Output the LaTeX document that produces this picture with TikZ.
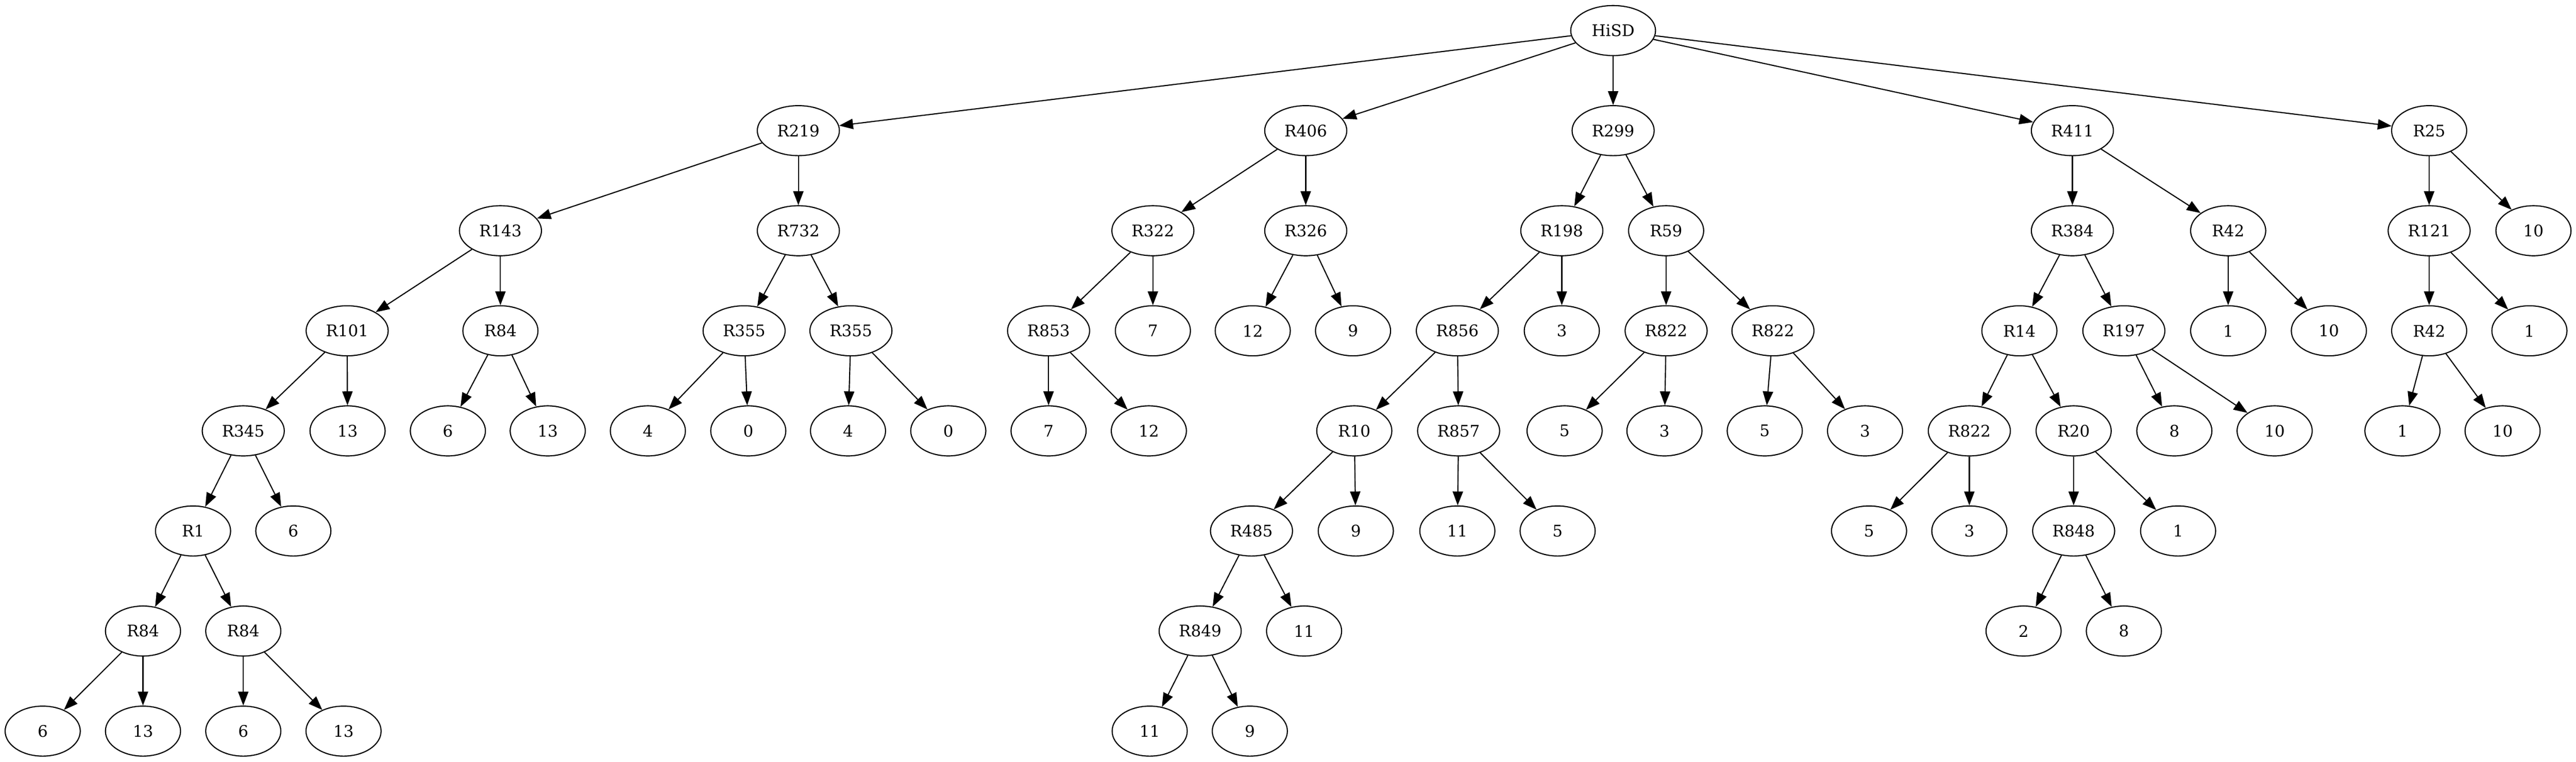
\documentclass[tikz,border=0pt]{standalone}
\usepackage{fontspec}
\setmainfont{DejaVu Serif}
\usetikzlibrary{shapes.geometric}
\usetikzlibrary{arrows.meta}
\def\thickness{0.8pt}
\tikzstyle{leaf}=[ellipse, draw=black, line width=\thickness, inner sep=0pt, minimum width=54pt, minimum height=36pt, font=\fontsize{11.5}{13}\selectfont]
\tikzstyle{wide}=[leaf, minimum width=59pt]
\tikzstyle{root}=[leaf, minimum width=61pt]
\tikzstyle{edge}=[line width=\thickness, -{Triangle[length=10pt, width=7.4pt]}]

\begin{document}
\begin{tikzpicture}[x=1pt, y=-1pt]
\useasboundingbox (0,0) rectangle (1852.1,547.9);
% rank 0
\node [root] (hisd) at (1159.8,22) {HiSD};
% rank 1
\node [wide] (r219) at (574.0,94) {R219};
\node [wide] (r406) at (938.8,94) {R406};
\node [wide] (r299) at (1159.8,94) {R299};
\node [wide] (r411) at (1490.0,94) {R411};
\node [leaf] (r25) at (1746.5,94) {R25};
% rank 2
\node [wide] (r143) at (359.8,166) {R143};
\node [wide] (r732) at (574.0,166) {R732};
\node [wide] (r322) at (828.9,166) {R322};
\node [wide] (r326) at (938.8,166) {R326};
\node [wide] (r198) at (1122.9,166) {R198};
\node [leaf] (r59) at (1197.9,166) {R59};
\node [wide] (r384) at (1490.0,166) {R384};
\node [leaf] (r42a) at (1602.0,166) {R42};
\node [wide] (r121) at (1746.5,166) {R121};
\node [leaf] (r25t) at (1821.5,166) {10};
% rank 3
\node [wide] (r101) at (249.6,238) {R101};
\node [leaf] (r84a) at (359.8,238) {R84};
\node [wide] (r355a) at (535.0,238) {R355};
\node [wide] (r355b) at (611.8,238) {R355};
\node [wide] (r853) at (753.9,238) {R853};
\node [leaf] (r322t) at (828.9,238) {7};
\node [leaf] (r326a) at (900.7,238) {12};
\node [leaf] (r326b) at (972.8,238) {9};
\node [wide] (r856) at (1047.8,238) {R856};
\node [leaf] (r198t) at (1122.9,238) {3};
\node [wide] (r822a) at (1197.9,238) {R822};
\node [wide] (r822b) at (1274.7,238) {R822};
\node [leaf] (r14) at (1451.9,238) {R14};
\node [wide] (r197) at (1527.0,238) {R197};
\node [leaf] (r42aa) at (1602.0,238) {1};
\node [leaf] (r42ab) at (1674.4,238) {10};
\node [leaf] (r42b) at (1746.5,238) {R42};
\node [leaf] (r121t) at (1818.6,238) {1};
% rank 4
\node [wide] (r345) at (174.9,310) {R345};
\node [leaf] (r101t) at (249.9,310) {13};
\node [leaf] (r84aa) at (322.0,310) {6};
\node [leaf] (r84ab) at (393.8,310) {13};
\node [leaf] (r355aa) at (465.8,310) {4};
\node [leaf] (r355ab) at (538.0,310) {0};
\node [leaf] (r355ba) at (609.7,310) {4};
\node [leaf] (r355bb) at (681.8,310) {0};
\node [leaf] (r853a) at (753.9,310) {7};
\node [leaf] (r853b) at (826.0,310) {12};
\node [leaf] (r10) at (973.7,310) {R10};
\node [wide] (r857) at (1048.7,310) {R857};
\node [leaf] (r822aa) at (1124.9,310) {5};
\node [leaf] (r822ab) at (1196.7,310) {3};
\node [leaf] (r822ba) at (1268.8,310) {5};
\node [leaf] (r822bb) at (1340.9,310) {3};
\node [wide] (r822c) at (1415.9,310) {R822};
\node [leaf] (r20) at (1490.9,310) {R20};
\node [leaf] (r197a) at (1563.3,310) {8};
\node [leaf] (r197b) at (1635.4,310) {10};
\node [leaf] (r42ba) at (1727.3,310) {1};
\node [leaf] (r42bb) at (1799.3,310) {10};
% rank 5
\node [leaf] (r1) at (138.8,382) {R1};
\node [leaf] (r345t) at (210.9,382) {6};
\node [wide] (r485) at (899.8,382) {R485};
\node [leaf] (r10t) at (974.8,382) {9};
\node [leaf] (r857a) at (1047.8,382) {11};
\node [leaf] (r857b) at (1119.9,382) {5};
\node [leaf] (r822ca) at (1343.8,382) {5};
\node [leaf] (r822cb) at (1415.9,382) {3};
\node [wide] (r848) at (1490.9,382) {R848};
\node [leaf] (r20t) at (1566.0,382) {1};
% rank 6
\node [leaf] (r84b) at (102.8,454) {R84};
\node [leaf] (r84c) at (174.9,454) {R84};
\node [wide] (r849) at (862.9,454) {R849};
\node [leaf] (r485t) at (937.6,454) {11};
\node [leaf] (r848a) at (1454.9,454) {2};
\node [leaf] (r848b) at (1527.0,454) {8};
% rank 7
\node [leaf] (r84ba) at (30.7,526) {6};
\node [leaf] (r84bb) at (102.8,526) {13};
\node [leaf] (r84ca) at (174.9,526) {6};
\node [leaf] (r84cb) at (247.0,526) {13};
\node [leaf] (r849a) at (826.6,526) {11};
\node [leaf] (r849b) at (898.6,526) {9};
% edges
\draw [edge] (hisd) -- (r219);
\draw [edge] (hisd) -- (r406);
\draw [edge] (hisd) -- (r299);
\draw [edge] (hisd) -- (r411);
\draw [edge] (hisd) -- (r25);
\draw [edge] (r219) -- (r143);
\draw [edge] (r219) -- (r732);
\draw [edge] (r143) -- (r101);
\draw [edge] (r143) -- (r84a);
\draw [edge] (r101) -- (r345);
\draw [edge] (r101) -- (r101t);
\draw [edge] (r345) -- (r1);
\draw [edge] (r345) -- (r345t);
\draw [edge] (r1) -- (r84b);
\draw [edge] (r1) -- (r84c);
\draw [edge] (r84b) -- (r84ba);
\draw [edge] (r84b) -- (r84bb);
\draw [edge] (r84c) -- (r84ca);
\draw [edge] (r84c) -- (r84cb);
\draw [edge] (r84a) -- (r84aa);
\draw [edge] (r84a) -- (r84ab);
\draw [edge] (r732) -- (r355a);
\draw [edge] (r732) -- (r355b);
\draw [edge] (r355a) -- (r355aa);
\draw [edge] (r355a) -- (r355ab);
\draw [edge] (r355b) -- (r355ba);
\draw [edge] (r355b) -- (r355bb);
\draw [edge] (r406) -- (r322);
\draw [edge] (r406) -- (r326);
\draw [edge] (r322) -- (r853);
\draw [edge] (r322) -- (r322t);
\draw [edge] (r853) -- (r853a);
\draw [edge] (r853) -- (r853b);
\draw [edge] (r326) -- (r326a);
\draw [edge] (r326) -- (r326b);
\draw [edge] (r299) -- (r198);
\draw [edge] (r299) -- (r59);
\draw [edge] (r198) -- (r856);
\draw [edge] (r198) -- (r198t);
\draw [edge] (r856) -- (r10);
\draw [edge] (r856) -- (r857);
\draw [edge] (r10) -- (r485);
\draw [edge] (r10) -- (r10t);
\draw [edge] (r485) -- (r849);
\draw [edge] (r485) -- (r485t);
\draw [edge] (r849) -- (r849a);
\draw [edge] (r849) -- (r849b);
\draw [edge] (r857) -- (r857a);
\draw [edge] (r857) -- (r857b);
\draw [edge] (r59) -- (r822a);
\draw [edge] (r59) -- (r822b);
\draw [edge] (r822a) -- (r822aa);
\draw [edge] (r822a) -- (r822ab);
\draw [edge] (r822b) -- (r822ba);
\draw [edge] (r822b) -- (r822bb);
\draw [edge] (r411) -- (r384);
\draw [edge] (r411) -- (r42a);
\draw [edge] (r384) -- (r14);
\draw [edge] (r384) -- (r197);
\draw [edge] (r14) -- (r822c);
\draw [edge] (r14) -- (r20);
\draw [edge] (r822c) -- (r822ca);
\draw [edge] (r822c) -- (r822cb);
\draw [edge] (r20) -- (r848);
\draw [edge] (r20) -- (r20t);
\draw [edge] (r848) -- (r848a);
\draw [edge] (r848) -- (r848b);
\draw [edge] (r197) -- (r197a);
\draw [edge] (r197) -- (r197b);
\draw [edge] (r42a) -- (r42aa);
\draw [edge] (r42a) -- (r42ab);
\draw [edge] (r25) -- (r121);
\draw [edge] (r25) -- (r25t);
\draw [edge] (r121) -- (r42b);
\draw [edge] (r121) -- (r121t);
\draw [edge] (r42b) -- (r42ba);
\draw [edge] (r42b) -- (r42bb);
\end{tikzpicture}
\end{document}
